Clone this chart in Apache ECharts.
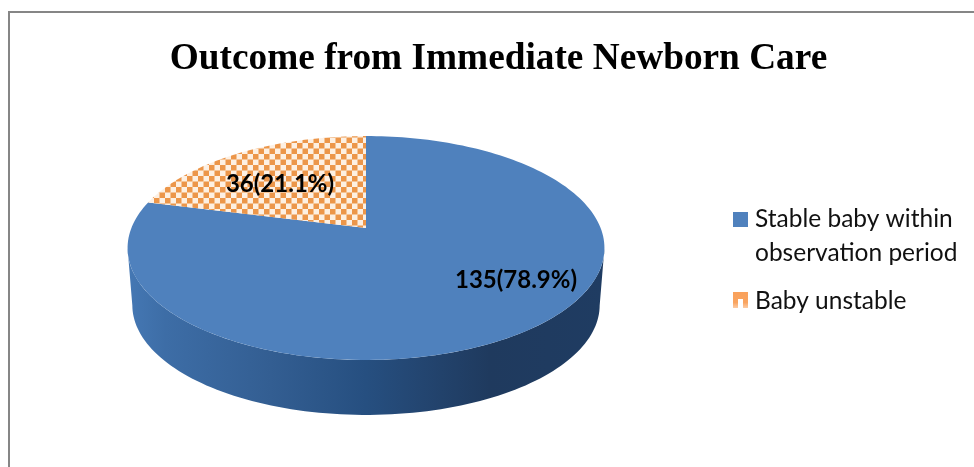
<!DOCTYPE html>
<html>
<head>
<meta charset="utf-8">
<style>html,body{margin:0;padding:0;background:#fff}#c{width:974px;height:467px}</style>
<script src="https://cdn.jsdelivr.net/npm/echarts@6/dist/echarts.min.js"></script>
</head>
<body>
<div id="c"></div>
<script>
const categories = ['Stable baby within\nobservation period', 'Baby unstable'];
const counts = [135, 36];
const titleText = 'Outcome from Immediate Newborn Care';

const total = counts.reduce((a, b) => a + b, 0);
const CX = 366, CY = 228, A = 108.4, B = 234.6, K = -0.1786;
const ELLIPSE_CY = 248, DEPTH = 57.2, BASE_SCALE = 0.98;
const rad = d => d * Math.PI / 180;

function topPoint(deg) {
  const u = Math.sin(rad(deg)), v = -Math.cos(rad(deg)), w = 1 + K * v;
  return [CX + B * u / w, CY + A * v / w];
}
function basePoint(deg) {
  const p = topPoint(deg);
  return [CX + (p[0] - CX) * BASE_SCALE, ELLIPSE_CY + DEPTH + (p[1] - ELLIPSE_CY) * BASE_SCALE];
}
function arc(fn, a0, a1) {
  const pts = [], n = Math.max(2, Math.ceil(Math.abs(a1 - a0) / 1.5));
  for (let i = 0; i <= n; i++) pts.push(fn(a0 + (a1 - a0) * i / n));
  return pts;
}
function makeChecker() {
  const s = 11, c = document.createElement('canvas');
  c.width = c.height = s;
  const g = c.getContext('2d');
  g.fillStyle = '#fdf0e3';
  g.fillRect(0, 0, s, s);
  g.filter = 'blur(0.55px)';
  g.fillStyle = '#ec964a';
  for (let i = -1; i <= 1; i++) for (let j = -1; j <= 1; j++) {
    g.fillRect(i * s, j * s, 5.5, 5.5);
    g.fillRect(i * s + 5.5, j * s + 5.5, 5.5, 5.5);
  }
  return c;
}
const checker = makeChecker();
const fills = ['#4f81bd', { image: checker, repeat: 'repeat' }];
const labelAt = [[516, 280], [280, 184]];
const wallFill = { type: 'linear', x: 0, y: 0, x2: 1, y2: 0, colorStops: [
  { offset: 0, color: '#4578b4' }, { offset: 0.08, color: '#3d6da6' },
  { offset: 0.3, color: '#335e92' }, { offset: 0.5, color: '#264f80' },
  { offset: 0.62, color: '#234570' }, { offset: 0.76, color: '#1f3a5e' },
  { offset: 1, color: '#1f3c62' }] };

function sliceRender(index) {
  return function (params, api) {
    const value = api.value(0);
    let start = 0;
    for (let i = 0; i < index; i++) start += counts[i];
    const a0 = start / total * 360, a1 = a0 + value / total * 360;
    const children = [];
    const w0 = Math.max(a0, 100.4), w1 = Math.min(a1, 259.6);
    if (w1 > w0) {
      children.push({ type: 'polygon', shape: { points: arc(topPoint, w0, w1).concat(arc(basePoint, w1, w0)) },
        style: { fill: wallFill, stroke: null } });
    }
    children.push({ type: 'polygon', shape: { points: [[CX, CY]].concat(arc(topPoint, a0, a1)) },
      style: { fill: fills[index], stroke: null } });
    children.push({ type: 'text', z2: 10, x: labelAt[index][0], y: labelAt[index][1],
      style: { text: value + '(' + (value / total * 100).toFixed(1) + '%)',
        font: 'bold 24px Lato', fill: '#000', align: 'center', verticalAlign: 'middle' } });
    return { type: 'group', children };
  };
}

const chart = echarts.init(document.getElementById('c'), null, { renderer: 'canvas' });
chart.setOption({
  animation: false,
  backgroundColor: '#fff',
  title: { text: titleText, left: 493.5, top: 36, textAlign: 'center',
    textStyle: { fontFamily: 'Liberation Serif', fontWeight: 'bold', fontSize: 37.3, color: '#000' } },
  legend: [
    { show: true, left: 733, top: 202, orient: 'vertical', selectedMode: false, itemWidth: 17, itemHeight: 68,
      padding: 0, textStyle: { fontFamily: 'Lato', fontSize: 24.5, lineHeight: 34, color: '#111' },
      data: [{ name: categories[0], icon: 'path://M0 10H15V25H0Z M0 0h.01v.01z M17 68h.01v.01z',
        itemStyle: { color: '#4f81bd' } }] },
    { show: true, left: 733, top: 286, orient: 'vertical', selectedMode: false, itemWidth: 17, itemHeight: 30,
      padding: 0, textStyle: { fontFamily: 'Lato', fontSize: 24.5, lineHeight: 30, color: '#111' },
      data: [{ name: categories[1], icon: 'path://M0 6H15V22H10V13H5V22H0Z M0 0h.01v.01z M17 30h.01v.01z',
        itemStyle: { color: { type: 'linear', x: 0, y: 0, x2: 0, y2: 1, colorStops: [
          { offset: 0, color: '#f99f58' }, { offset: 0.55, color: '#f9a460' }, { offset: 0.72, color: '#fcc9a0' }, { offset: 1, color: '#fcc9a0' }] } } }] }
  ],
  graphic: [{ type: 'polyline', silent: true, shape: { points: [[9, 467], [9, 12], [974, 12]] },
    style: { stroke: '#868686', lineWidth: 2, fill: null } }],
  series: categories.map((name, i) => ({
    type: 'custom', name, coordinateSystem: 'none', clip: false,
    z: i === 0 ? 2 : 3,
    itemStyle: { color: '#4f81bd' },
    data: [[counts[i]]],
    renderItem: sliceRender(i)
  }))
});
</script>
</body>
</html>
